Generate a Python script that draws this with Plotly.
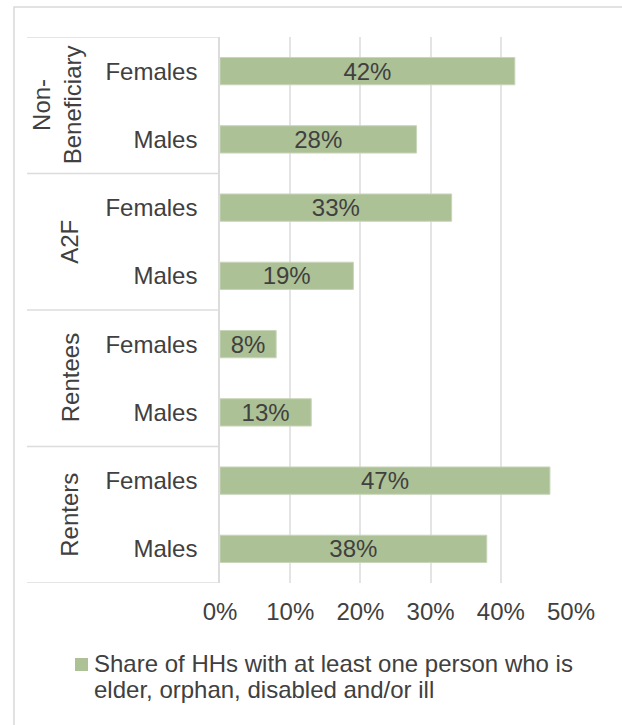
import plotly.graph_objects as go

# ---- data -------------------------------------------------------------
groups = ["Non-<br>Beneficiary", "A2F", "Rentees", "Renters"]
sexes = ["Females", "Males"]
shares = [0.42, 0.28, 0.33, 0.19, 0.08, 0.13, 0.47, 0.38]
x_ticks = [0.0, 0.1, 0.2, 0.3, 0.4, 0.5]
x_tick_labels = ["0%", "10%", "20%", "30%", "40%", "50%"]
series_name = "Share of HHs with at least one person who is elder, orphan, disabled and/or ill"
legend_lines = ["Share of HHs with at least one person who is",
                "elder, orphan, disabled and/or ill"]

# ---- style ------------------------------------------------------------
W, H = 622, 725
ML, MR, MT, MB = 220, 51, 37, 142
PW, PH = W - ML - MR, H - MT - MB
FONT = "Liberation Sans, Arial, sans-serif"
TXT = "#404040"
BAR = "#adc196"
GRID = "#e4e4e4"
FS = 24


def px_x(px):
    return (px - ML) / PW


def px_y(py):
    return (H - MB - py) / PH


row_labels = [s for _ in groups for s in sexes]
rows = list(range(len(row_labels)))

fig = go.Figure()
fig.add_trace(go.Bar(
    x=shares, y=rows, orientation="h", width=0.4,
    name=series_name, showlegend=False,
    marker=dict(color=BAR, line=dict(color="#c8d5b9", width=1)),
    texttemplate="%{x:.0%}", textposition="inside",
    insidetextanchor="middle", textangle=0, constraintext="none",
    textfont=dict(family=FONT, size=FS, color=TXT),
    insidetextfont=dict(family=FONT, size=FS, color=TXT),
    hoverinfo="skip",
))

shapes = []
annotations = []

# group separators on the category axis
n_sub = len(sexes)
for g in range(len(groups) + 1):
    yb = g * n_sub - 0.5
    shapes.append(dict(type="line", xref="paper", yref="y",
                       x0=px_x(27), x1=0, y0=yb, y1=yb,
                       line=dict(color="#dcdcdc", width=1.5)))

# rotated group labels
group_x = {0: 57}
for g, name in enumerate(groups):
    annotations.append(dict(
        text=name, xref="paper", yref="y",
        x=px_x(group_x.get(g, 70)), y=g * n_sub + (n_sub - 1) / 2,
        xanchor="center", yanchor="middle", textangle=-90,
        showarrow=False, font=dict(family=FONT, size=FS, color=TXT)))

# outer chart border
shapes.append(dict(type="rect", xref="paper", yref="paper", layer="below",
                   x0=px_x(14), x1=px_x(W + 20), y0=px_y(7), y1=px_y(H + 20),
                   line=dict(color="#d9d9d9", width=1.5)))

# legend: swatch + two lines of text
shapes.append(dict(type="rect", xref="paper", yref="paper",
                   x0=px_x(75), x1=px_x(88), y0=px_y(658), y1=px_y(671),
                   fillcolor=BAR, line=dict(width=0)))
for i, line in enumerate(legend_lines):
    annotations.append(dict(
        text=line, xref="paper", yref="paper",
        x=px_x(92), y=px_y(663 + 26 * i), xanchor="left", yanchor="middle",
        align="left", showarrow=False,
        font=dict(family=FONT, size=FS, color=TXT)))

fig.update_layout(
    width=W, height=H,
    margin=dict(l=ML, r=MR, t=MT, b=MB, pad=0),
    paper_bgcolor="white", plot_bgcolor="white",
    font=dict(family=FONT, size=FS, color=TXT),
    xaxis=dict(range=[0, 0.5], tickvals=x_ticks, ticktext=x_tick_labels,
               showgrid=True, gridcolor=GRID, gridwidth=1.5,
               zeroline=False, showline=False, ticks="",
               ticklabelstandoff=12, fixedrange=True),
    yaxis=dict(range=[len(rows) - 0.5, -0.5], tickvals=rows,
               ticktext=row_labels, showgrid=False, zeroline=False,
               showline=True, linecolor="#dcdcdc", linewidth=1.5,
               ticks="", ticklabelstandoff=16, fixedrange=True),
    shapes=shapes, annotations=annotations,
    bargap=0.6,
)

fig.write_html("out.html")
